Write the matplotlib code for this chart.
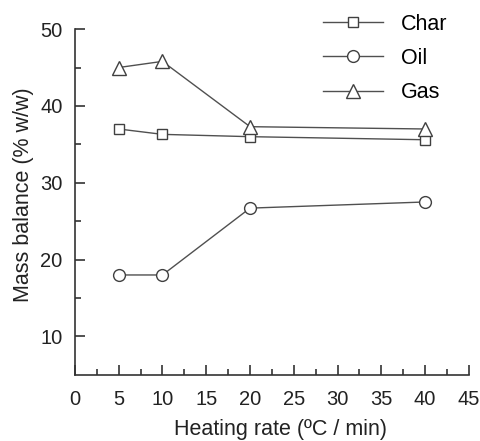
import matplotlib
matplotlib.use('Agg')
import matplotlib.pyplot as plt
from matplotlib.ticker import MultipleLocator

plt.rcParams['font.family'] = ['Liberation Sans', 'DejaVu Sans']

rate = [5, 10, 20, 40]
char = [37.0, 36.3, 36.0, 35.6]
oil = [18.0, 18.0, 26.7, 27.5]
gas = [45.0, 45.8, 37.3, 37.0]

fig = plt.figure(figsize=(4.8, 4.41), dpi=100)
ax = fig.add_axes([0.156, 0.150, 0.821, 0.784])

lc = '#505050'
ax.plot(rate, char, '-s', color=lc, lw=1, ms=7.5, mfc='white', mec='#404040', mew=1, label='Char')
ax.plot(rate, oil, '-o', color=lc, lw=1, ms=8.5, mfc='white', mec='#404040', mew=1, label='Oil')
ax.plot(rate, gas, '-^', color=lc, lw=1, ms=10, mfc='white', mec='#404040', mew=1, label='Gas')

ax.set_xlim(0, 45)
ax.set_ylim(5, 50)
ax.xaxis.set_major_locator(MultipleLocator(5))
ax.xaxis.set_minor_locator(MultipleLocator(2.5))
ax.set_yticks([10, 20, 30, 40, 50])
ax.set_yticks([15, 25, 35, 45], minor=True)

for s in ['top', 'right']:
    ax.spines[s].set_visible(False)
for s in ['left', 'bottom']:
    ax.spines[s].set_color('#333333')
    ax.spines[s].set_linewidth(1.2)

ax.tick_params(which='both', direction='in', color='#333333', width=1.2, labelsize=14.5, labelcolor='#222222')
ax.tick_params(which='major', length=7.5)
ax.tick_params(which='minor', length=4)
ax.tick_params(axis='x', pad=11)
ax.tick_params(axis='y', pad=9)

ax.set_xlabel('Heating rate (ºC / min)', fontsize=15.5, color='#222222', labelpad=7, x=0.523)
ax.set_ylabel('Mass balance (% w/w)', fontsize=15.5, color='#222222', labelpad=4, y=0.52)

ax.legend(loc='upper left', bbox_to_anchor=(0.629, 1.045), frameon=False, fontsize=15.5,
          numpoints=1, handlelength=2.8, handletextpad=0.85, labelspacing=0.62, borderpad=0,
          borderaxespad=0)

fig.savefig('out.png', dpi=100)
